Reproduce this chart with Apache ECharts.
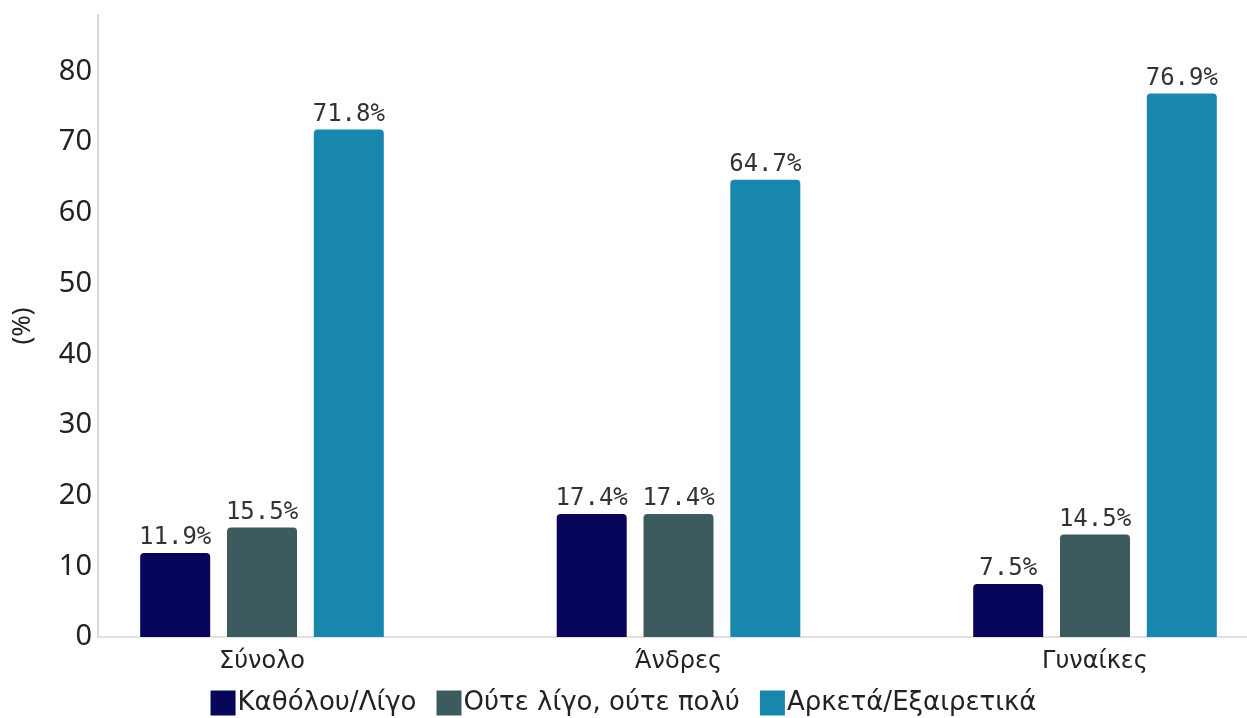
<!DOCTYPE html>
<html>
<head>
<meta charset="utf-8">
<script src="https://cdn.jsdelivr.net/npm/echarts@6/dist/echarts.min.js"></script>
<style>html,body{margin:0;padding:0;background:#fff}#c{width:1247px;height:718px}</style>
</head>
<body>
<div id="c"></div>
<script>
const categories = ['Σύνολο', 'Άνδρες', 'Γυναίκες'];
const seriesNames = ['Καθόλου/Λίγο', 'Ούτε λίγο, ούτε πολύ', 'Αρκετά/Εξαιρετικά'];
const valuesLow = [11.9, 17.4, 7.5];
const valuesMid = [15.5, 17.4, 14.5];
const valuesHigh = [71.8, 64.7, 76.9];
const yTicks = [0, 10, 20, 30, 40, 50, 60, 70, 80];
const colors = ['#07065a', '#3d5b5e', '#1787ae'];

const YMAX = 88;
const chart = echarts.init(document.getElementById('c'), null, {renderer: 'canvas'});
const labelStyle = {
  show: true, position: 'top', distance: 3,
  fontFamily: 'DejaVu Sans Mono', fontSize: 24, color: '#333',
  formatter: p => p.value.toFixed(1) + '%'
};
function mk(name, data, i) {
  return {
    name: name, type: 'bar', xAxisIndex: 0, yAxisIndex: 0,
    data: data, barWidth: 70, barGap: '24%',
    itemStyle: {color: colors[i], borderRadius: [4, 4, 0, 0]},
    label: labelStyle
  };
}
chart.setOption({
  animation: false,
  color: colors,
  legend: {
    data: seriesNames, bottom: 2, left: 'center', padding: 0,
    icon: 'rect', itemWidth: 25, itemHeight: 25, itemGap: 20,
    textStyle: {fontFamily: 'DejaVu Sans', fontSize: 26, color: '#222', padding: [0, 0, 0, -3]}
  },
  grid: [
    {left: 53.75, right: -56.25, top: 15, bottom: 81, containLabel: false, outerBoundsMode: 'none'},
    {left: 98, right: 0, top: 15, bottom: 81, containLabel: false, outerBoundsMode: 'none'}
  ],
  xAxis: [
    {
      type: 'category', gridIndex: 0, data: categories,
      axisLine: {show: false}, axisTick: {show: false},
      axisLabel: {fontFamily: 'DejaVu Sans', fontSize: 24, color: '#222', margin: 13}
    },
    {
      type: 'value', gridIndex: 1, min: 0, max: 1,
      axisLine: {show: true, lineStyle: {color: '#d9d9d9', width: 1.5}},
      axisTick: {show: false}, axisLabel: {show: false}, splitLine: {show: false}
    }
  ],
  yAxis: [
    {
      type: 'value', gridIndex: 0, min: 0, max: YMAX, show: false,
      splitLine: {show: false}
    },
    {
      type: 'value', gridIndex: 1, min: 0, max: YMAX, interval: 10,
      name: '(%)', nameLocation: 'middle', nameRotate: 90, nameGap: 62,
      nameTextStyle: {fontFamily: 'Noto Sans', fontSize: 26, color: '#222'},
      axisLine: {show: true, lineStyle: {color: '#d9d9d9', width: 2}},
      axisTick: {show: false}, splitLine: {show: false},
      axisLabel: {
        fontFamily: 'Noto Sans', fontSize: 29, color: '#222', margin: 6,
        formatter: v => yTicks.indexOf(v) >= 0 ? String(v) : ''
      }
    }
  ],
  series: [
    mk(seriesNames[0], valuesLow, 0),
    mk(seriesNames[1], valuesMid, 1),
    mk(seriesNames[2], valuesHigh, 2)
  ]
});
</script>
</body>
</html>
